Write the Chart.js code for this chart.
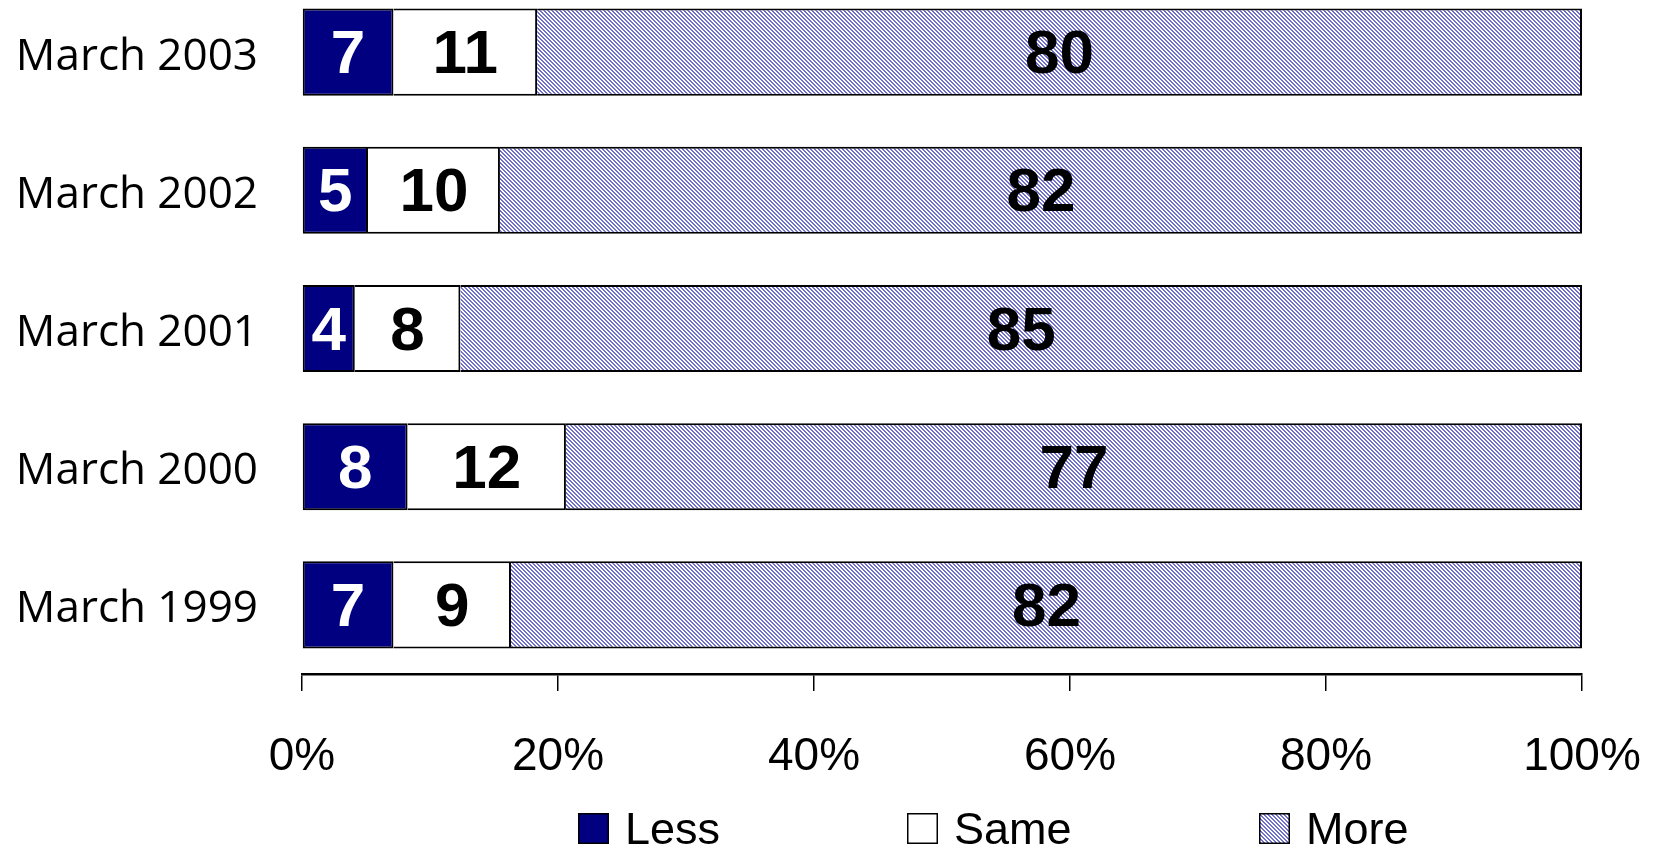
<!DOCTYPE html>
<html><head><meta charset="utf-8">
<script src="https://cdn.jsdelivr.net/npm/chart.js@4/dist/chart.umd.min.js"></script>
<style>
html,body{margin:0;padding:0;background:#fff;overflow:hidden;width:1654px;height:849px;}
#c{position:absolute;left:0;top:-17px;}
</style></head>
<body><canvas id="c" width="1654" height="866"></canvas>
<script>
const categories = ['March 2003', 'March 2002', 'March 2001', 'March 2000', 'March 1999'];
const lessValues = [7, 5, 4, 8, 7];
const sameValues = [11, 10, 8, 12, 9];
const moreValues = [80, 82, 85, 77, 82];
const seriesNames = ['Less', 'Same', 'More'];
const xTickValues = [0, 20, 40, 60, 80, 100];

const totals = categories.map((_, i) => lessValues[i] + sameValues[i] + moreValues[i]);
const toShare = arr => arr.map((v, i) => v / totals[i] * 100);

const canvas = document.getElementById('c');
const ctx0 = canvas.getContext('2d');

function makePattern() {
  const t = document.createElement('canvas');
  t.width = 4; t.height = 4;
  const g = t.getContext('2d');
  g.fillStyle = '#ffffff'; g.fillRect(0, 0, 4, 4);
  g.fillStyle = '#7070cc';
  for (let y = 0; y < 4; y++) for (let x = 0; x < 4; x++) {
    if ((((x - y) % 4) + 4) % 4 < 2) g.fillRect(x, y, 1, 1);
  }
  return ctx0.createPattern(t, 'repeat');
}
const morePattern = makePattern();

const valueLabels = {
  id: 'valueLabels',
  afterDatasetsDraw(chart) {
    const ctx = chart.ctx;
    ctx.save();
    ctx.font = 'bold 62px "Liberation Sans", Arial, sans-serif';
    ctx.textAlign = 'center';
    ctx.textBaseline = 'middle';
    chart.data.datasets.forEach((ds, di) => {
      const meta = chart.getDatasetMeta(di);
      meta.data.forEach((bar, i) => {
        const p = bar.getProps(['x', 'y', 'base'], true);
        ctx.fillStyle = ds.labelColor;
        ctx.fillText(String(ds.rawValues[i]), (p.x + p.base) / 2, p.y + 4);
      });
    });
    ctx.restore();
  }
};

const customLegend = {
  id: 'customLegend',
  afterDraw(chart, args, opts) {
    const ctx = chart.ctx;
    ctx.save();
    ctx.font = '45px "Liberation Sans", Arial, sans-serif';
    ctx.textAlign = 'left';
    ctx.textBaseline = 'middle';
    chart.data.datasets.forEach((ds, di) => {
      const bx = opts.slots[di];
      ctx.fillStyle = ds.backgroundColor;
      ctx.fillRect(bx, opts.top, opts.boxW, opts.boxH);
      ctx.lineWidth = 1.5;
      ctx.strokeStyle = '#000';
      ctx.strokeRect(bx + 0.75, opts.top + 0.75, opts.boxW - 1.5, opts.boxH - 1.5);
      ctx.fillStyle = '#000';
      ctx.fillText(ds.label, bx + opts.boxW + opts.gap, opts.top + opts.boxH / 2 + 3);
    });
    ctx.restore();
  }
};

const fills = ['#000080', '#ffffff', morePattern];
const labelColors = ['#ffffff', '#000000', '#000000'];
const rawSeries = [lessValues, sameValues, moreValues];

const datasets = seriesNames.map((name, k) => ({
  label: name,
  data: toShare(rawSeries[k]),
  rawValues: rawSeries[k],
  backgroundColor: fills[k],
  labelColor: labelColors[k],
  borderColor: '#000000',
  borderWidth: k === 0 ? {left: 2, top: 2, bottom: 2, right: 2} : {left: 0, top: 2, bottom: 2, right: 2},
  borderSkipped: false,
  categoryPercentage: 1.0,
  barPercentage: 0.63
}));

new Chart(canvas, {
  type: 'bar',
  data: { labels: categories, datasets },
  plugins: [valueLabels, customLegend],
  options: {
    indexAxis: 'y',
    responsive: false,
    animation: false,
    devicePixelRatio: 1,
    layout: { padding: { left: 0, right: 72, top: 0, bottom: 0 } },
    plugins: {
      legend: { display: false },
      tooltip: { enabled: false },
      customLegend: { slots: [578, 907, 1259], top: 830, boxW: 31, boxH: 31, gap: 16 }
    },
    scales: {
      x: {
        type: 'linear',
        stacked: true,
        min: 0,
        max: 100,
        afterBuildTicks: s => { s.ticks = xTickValues.map(v => ({ value: v })); },
        afterFit: s => { s.height = 175; s.paddingLeft = 0; s.paddingRight = 0; },
        grid: { drawOnChartArea: false, drawTicks: true, tickLength: 17, color: '#000', lineWidth: 1.5 },
        border: { display: true, color: '#000', width: 2.5 },
        ticks: {
          padding: 39,
          color: '#000',
          font: { family: '"Liberation Sans", Arial, sans-serif', size: 46 },
          callback: v => v + '%',
          maxRotation: 0,
          autoSkip: false
        }
      },
      y: {
        type: 'category',
        stacked: true,
        offset: true,
        afterFit: s => { s.width = 302; s.paddingTop = 0; s.paddingBottom = 0; },
        grid: { display: false, drawTicks: false, tickLength: 0 },
        border: { display: false },
        ticks: {
          padding: 44,
          labelOffset: 5,
          color: '#000',
          font: { family: '"Open Sans", "Noto Sans", sans-serif', size: 44 }
        }
      }
    }
  }
});
</script>
</body></html>
